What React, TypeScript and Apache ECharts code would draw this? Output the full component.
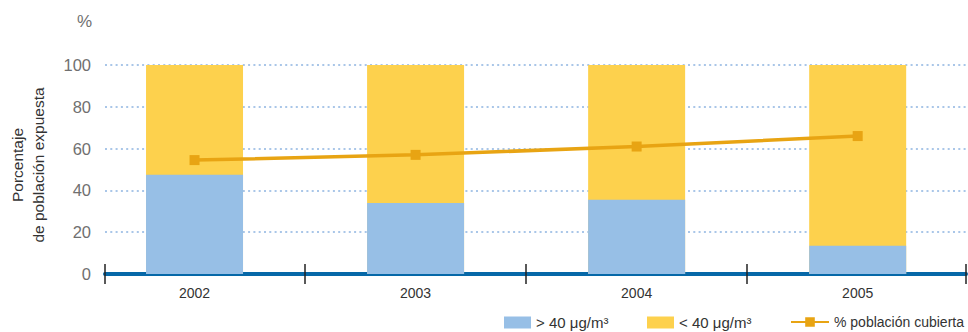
import React, { useEffect, useRef } from "react";
import * as echarts from "echarts";

const categories = ["2002", "2003", "2004", "2005"];
const above40 = [47.5, 34, 35.5, 13.5];
const below40 = [52.5, 66, 64.5, 86.5];
const coverage = [54.5, 57, 61, 66];
const yTicks = { min: 0, max: 100, interval: 20 };

const FONT = "'Liberation Sans', Arial, sans-serif";

export default function App() {
  const ref = useRef<HTMLDivElement>(null);
  useEffect(() => {
    document.body.style.margin = "0";
    const chart = echarts.init(ref.current!, null, { renderer: "svg" });
    const idx = categories.map((_, i) => i);
    const totals = above40.map((v, i) => v + below40[i]);
    const xMin = -0.405;
    const xMax = 3.49;
    const tickVals = [xMin, 0.5, 1.5, 2.5, xMax];
    const legendText = { color: "#333", fontSize: 15, fontFamily: FONT };
    chart.setOption({
      animation: false,
      textStyle: { fontFamily: FONT },
      grid: { left: 105, right: 2, top: 65, bottom: 58 },
      xAxis: [
        {
          type: "value",
          min: xMin,
          max: xMax,
          position: "bottom",
          axisLine: { show: true, lineStyle: { color: "#0668a8", width: 4 } },
          axisTick: {
            show: true,
            inside: false,
            length: 10,
            customValues: tickVals,
            lineStyle: { color: "#222", width: 1.5 },
          },
          axisLabel: {
            show: true,
            customValues: idx,
            formatter: (v: number) => categories[Math.round(v)],
            color: "#333",
            fontSize: 14,
            margin: 12,
            fontFamily: FONT,
          },
          splitLine: { show: false },
        },
        {
          type: "value",
          min: xMin,
          max: xMax,
          position: "bottom",
          axisLine: { show: false },
          axisTick: {
            show: true,
            inside: true,
            length: 10,
            customValues: tickVals,
            lineStyle: { color: "#222", width: 1.5 },
          },
          axisLabel: { show: false },
          splitLine: { show: false },
        },
      ],
      yAxis: {
        type: "value",
        min: yTicks.min,
        max: yTicks.max,
        interval: yTicks.interval,
        axisLine: { show: false },
        axisTick: { show: false },
        axisLabel: {
          color: "#707070",
          fontSize: 16.5,
          margin: 14,
          padding: [0, 0, 7, 0],
          fontFamily: FONT,
        },
        splitLine: {
          show: true,
          lineStyle: { color: "#a9c6e8", width: 2, type: [2, 3.3] },
        },
      },
      legend: [
        {
          left: 504,
          top: 315,
          padding: 0,
          itemWidth: 27,
          itemHeight: 12,
          icon: "rect",
          textStyle: legendText,
          data: ["> 40 μg/m³"],
        },
        {
          left: 647,
          top: 315,
          padding: 0,
          itemWidth: 27,
          itemHeight: 12,
          icon: "rect",
          textStyle: legendText,
          data: ["< 40 μg/m³"],
        },
        {
          left: 790,
          top: 315,
          padding: 0,
          itemWidth: 38,
          itemHeight: 12,
          textStyle: { ...legendText, fontSize: 14 },
          data: ["% población cubierta"],
        },
      ],
      graphic: [
        {
          type: "text",
          x: 28,
          y: 165,
          rotation: Math.PI / 2,
          style: {
            text: "Porcentaje\nde población expuesta",
            textAlign: "center",
            textVerticalAlign: "middle",
            fontSize: 15.5,
            lineHeight: 21,
            fill: "#333",
            fontFamily: FONT,
          },
        },
        {
          type: "text",
          x: 92,
          y: 21,
          style: {
            text: "%",
            textAlign: "right",
            textVerticalAlign: "middle",
            fontSize: 17,
            fill: "#707070",
            fontFamily: FONT,
          },
        },
      ],
      series: [
        {
          name: "< 40 μg/m³",
          type: "bar",
          barWidth: 97,
          barGap: "-100%",
          itemStyle: { color: "#fdd14d" },
          data: totals.map((v, i) => [i, v]),
        },
        {
          name: "> 40 μg/m³",
          type: "bar",
          barWidth: 97,
          barGap: "-100%",
          itemStyle: { color: "#97bfe6" },
          data: above40.map((v, i) => [i, v]),
        },
        {
          name: "% población cubierta",
          type: "line",
          symbol: "rect",
          symbolSize: 10,
          lineStyle: { color: "#e8a413", width: 3.5 },
          itemStyle: { color: "#e8a413" },
          data: coverage.map((v, i) => [i, v]),
          z: 5,
        },
      ],
    });
    return () => chart.dispose();
  }, []);
  return <div ref={ref} style={{ width: 968, height: 332 }} />;
}
